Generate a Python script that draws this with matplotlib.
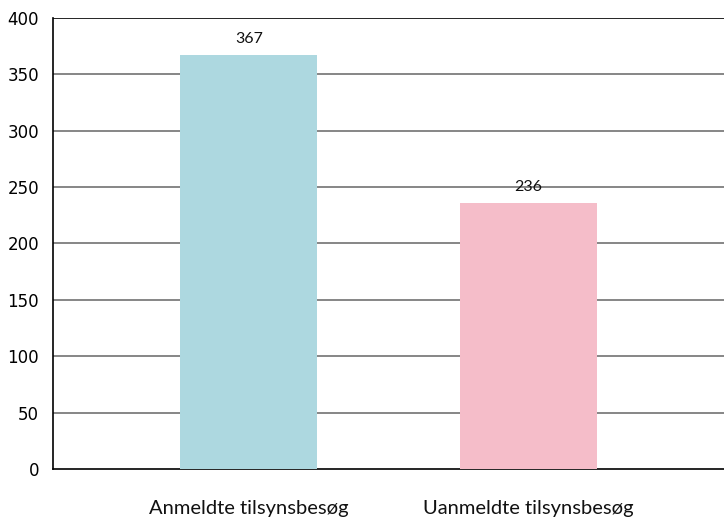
import matplotlib.pyplot as plt

categories = ['Anmeldte tilsynsbesøg', 'Uanmeldte tilsynsbesøg']
values = [367, 236]
colors = ['#add8e0', '#f5bdc9']
yticks = [0, 50, 100, 150, 200, 250, 300, 350, 400]

fig = plt.figure(figsize=(7.24, 5.18), dpi=100)
ax = fig.add_axes([53 / 724, 49 / 518, 1 - 53 / 724, 451 / 518])

x = list(range(len(categories)))
bars = ax.bar(x, values, width=0.49, color=colors, zorder=3)
for b, v in zip(bars, values):
    ax.text(b.get_x() + b.get_width() / 2, v + 8, str(v), ha='center', va='bottom',
            fontsize=11.5, family='Lato', color='#111111')

ax.set_ylim(0, 400)
ax.set_xlim(-0.70, 1.70)
ax.set_yticks(yticks)
ax.set_yticklabels([str(t) for t in yticks], fontsize=12, family='DejaVu Sans')
ax.set_xticks(x)
ax.set_xticklabels(categories, fontsize=14.5, family='Lato', color='#111111')
ax.tick_params(axis='y', length=0, pad=10)
ax.tick_params(axis='x', length=0, pad=22)

for t in yticks[1:-1]:
    ax.axhline(t, color='#666666', lw=1.1, zorder=1)
ax.axhline(400, color='black', lw=1.2, zorder=1)

for s in ['top', 'right']:
    ax.spines[s].set_visible(False)
ax.spines['left'].set_linewidth(1.2)
ax.spines['bottom'].set_linewidth(1.2)

fig.savefig('out.png', dpi=100)
